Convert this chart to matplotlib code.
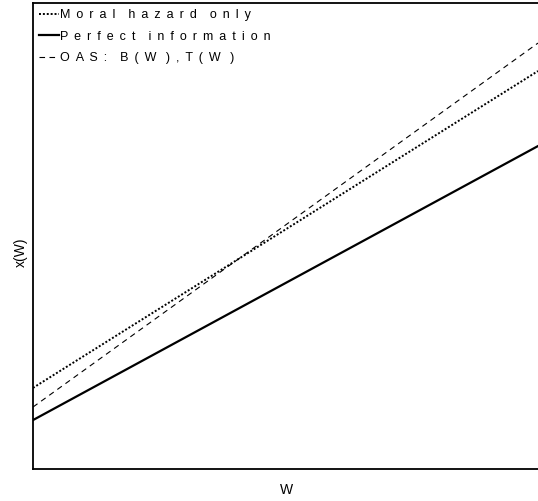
import matplotlib
matplotlib.use("Agg")
import matplotlib.pyplot as plt
import numpy as np

plt.rcParams['font.family'] = ['Liberation Sans', 'DejaVu Sans']

# Wealth grid endpoints and the three linear schedules x(W)
w = [0.0, 1.0]
moral_hazard = [1.74, 8.54]
perfect_info = [1.05, 6.93]
oas = [1.33, 9.14]

names = ["Moral hazard only", "Perfect information", "OAS: B(W),T(W)"]


def spaced(s):
    # letter-spaced legend text; W gets a little extra room after it
    words = []
    for word in s.split(" "):
        words.append(" \u2009".join(word).replace("W \u2009", "W  \u2009"))
    return "   \u2009".join(words)


labels = [spaced(n) for n in names]

fig = plt.figure(figsize=(5.38, 5.01), dpi=100)
ax = fig.add_axes([33/538, 32/501, 507/538, 466/501])

ax.plot(w, moral_hazard, color='black', linestyle=(0, (1, 1)), linewidth=1.4, label=labels[0])
ax.plot(w, perfect_info, color='black', linestyle='-', linewidth=1.6, label=labels[1])
ax.plot(w, oas, color='black', linestyle=(0, (5, 4)), linewidth=0.8, label=labels[2])

ax.set_xlim(0, 1.004)
ax.set_ylim(0, 10)
ax.set_xticks([])
ax.set_yticks([])
for s in ['left', 'bottom', 'top']:
    ax.spines[s].set_linewidth(1.3)
ax.spines['right'].set_visible(False)

ax.set_xlabel("W", fontsize=10, labelpad=10)
ax.set_ylabel("x(W)", fontsize=10)
ax.yaxis.set_label_coords(-0.01, 0.466)

leg = ax.legend(loc='upper left', frameon=False, fontsize=9, handlelength=1.6,
                handletextpad=0.1, labelspacing=0.75, borderaxespad=0.3,
                borderpad=0.2)

fig.savefig("out.png", dpi=100)
